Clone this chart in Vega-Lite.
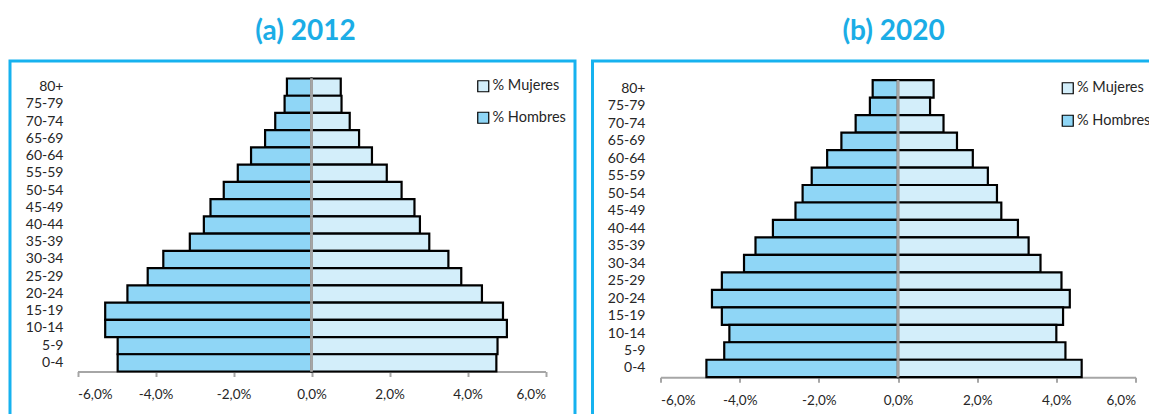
{
  "$schema": "https://vega.github.io/schema/vega-lite/v6.json",
  "background": "white",
  "padding": {"left": 8, "top": 16, "right": 0, "bottom": 0},
  "spacing": 13.5,
  "config": {
    "font": "Lato",
    "axis": {"labelFont": "Lato", "labelColor": "#262626", "grid": false},
    "legend": {"labelFont": "Lato"}
  },
  "datasets": {
    "y2012": [
      {"age": "80+", "sex": "% Hombres", "value": -0.63}, {"age": "80+", "sex": "% Mujeres", "value": 0.75},
      {"age": "75-79", "sex": "% Hombres", "value": -0.69}, {"age": "75-79", "sex": "% Mujeres", "value": 0.77},
      {"age": "70-74", "sex": "% Hombres", "value": -0.93}, {"age": "70-74", "sex": "% Mujeres", "value": 0.98},
      {"age": "65-69", "sex": "% Hombres", "value": -1.19}, {"age": "65-69", "sex": "% Mujeres", "value": 1.22},
      {"age": "60-64", "sex": "% Hombres", "value": -1.55}, {"age": "60-64", "sex": "% Mujeres", "value": 1.55},
      {"age": "55-59", "sex": "% Hombres", "value": -1.89}, {"age": "55-59", "sex": "% Mujeres", "value": 1.93},
      {"age": "50-54", "sex": "% Hombres", "value": -2.25}, {"age": "50-54", "sex": "% Mujeres", "value": 2.31},
      {"age": "45-49", "sex": "% Hombres", "value": -2.59}, {"age": "45-49", "sex": "% Mujeres", "value": 2.64},
      {"age": "40-44", "sex": "% Hombres", "value": -2.76}, {"age": "40-44", "sex": "% Mujeres", "value": 2.78},
      {"age": "35-39", "sex": "% Hombres", "value": -3.12}, {"age": "35-39", "sex": "% Mujeres", "value": 3.02},
      {"age": "30-34", "sex": "% Hombres", "value": -3.80}, {"age": "30-34", "sex": "% Mujeres", "value": 3.51},
      {"age": "25-29", "sex": "% Hombres", "value": -4.20}, {"age": "25-29", "sex": "% Mujeres", "value": 3.84},
      {"age": "20-24", "sex": "% Hombres", "value": -4.72}, {"age": "20-24", "sex": "% Mujeres", "value": 4.37},
      {"age": "15-19", "sex": "% Hombres", "value": -5.29}, {"age": "15-19", "sex": "% Mujeres", "value": 4.91},
      {"age": "10-14", "sex": "% Hombres", "value": -5.29}, {"age": "10-14", "sex": "% Mujeres", "value": 5.01},
      {"age": "5-9", "sex": "% Hombres", "value": -4.97}, {"age": "5-9", "sex": "% Mujeres", "value": 4.77},
      {"age": "0-4", "sex": "% Hombres", "value": -4.97}, {"age": "0-4", "sex": "% Mujeres", "value": 4.74}
    ],
    "y2020": [
      {"age": "80+", "sex": "% Hombres", "value": -0.64}, {"age": "80+", "sex": "% Mujeres", "value": 0.90},
      {"age": "75-79", "sex": "% Hombres", "value": -0.71}, {"age": "75-79", "sex": "% Mujeres", "value": 0.81},
      {"age": "70-74", "sex": "% Hombres", "value": -1.07}, {"age": "70-74", "sex": "% Mujeres", "value": 1.15},
      {"age": "65-69", "sex": "% Hombres", "value": -1.43}, {"age": "65-69", "sex": "% Mujeres", "value": 1.49},
      {"age": "60-64", "sex": "% Hombres", "value": -1.79}, {"age": "60-64", "sex": "% Mujeres", "value": 1.89},
      {"age": "55-59", "sex": "% Hombres", "value": -2.18}, {"age": "55-59", "sex": "% Mujeres", "value": 2.27},
      {"age": "50-54", "sex": "% Hombres", "value": -2.41}, {"age": "50-54", "sex": "% Mujeres", "value": 2.50},
      {"age": "45-49", "sex": "% Hombres", "value": -2.59}, {"age": "45-49", "sex": "% Mujeres", "value": 2.61},
      {"age": "40-44", "sex": "% Hombres", "value": -3.16}, {"age": "40-44", "sex": "% Mujeres", "value": 3.03},
      {"age": "35-39", "sex": "% Hombres", "value": -3.60}, {"age": "35-39", "sex": "% Mujeres", "value": 3.30},
      {"age": "30-34", "sex": "% Hombres", "value": -3.89}, {"age": "30-34", "sex": "% Mujeres", "value": 3.60},
      {"age": "25-29", "sex": "% Hombres", "value": -4.45}, {"age": "25-29", "sex": "% Mujeres", "value": 4.13},
      {"age": "20-24", "sex": "% Hombres", "value": -4.70}, {"age": "20-24", "sex": "% Mujeres", "value": 4.34},
      {"age": "15-19", "sex": "% Hombres", "value": -4.45}, {"age": "15-19", "sex": "% Mujeres", "value": 4.17},
      {"age": "10-14", "sex": "% Hombres", "value": -4.26}, {"age": "10-14", "sex": "% Mujeres", "value": 4.00},
      {"age": "5-9", "sex": "% Hombres", "value": -4.39}, {"age": "5-9", "sex": "% Mujeres", "value": 4.23},
      {"age": "0-4", "sex": "% Hombres", "value": -4.84}, {"age": "0-4", "sex": "% Mujeres", "value": 4.64}
    ]
  },
  "hconcat": [
    {
      "width": 565,
      "height": 370,
      "view": {"stroke": "#16B2EF", "strokeWidth": 3},
      "title": {"text": "(a) 2012", "font": "Lato", "fontSize": 28, "fontWeight": "bold", "color": "#1BADE6", "baseline": "alphabetic", "offset": -6.5, "dx": 13, "anchor": "middle"},
      "data": {"name": "y2012"},
      "encoding": {
        "y": {"field": "age", "type": "nominal", "title": null,
              "scale": {"domain": ["80+","75-79","70-74","65-69","60-64","55-59","50-54","45-49","40-44","35-39","30-34","25-29","20-24","15-19","10-14","5-9","0-4"], "range": [17.5, 310.5], "paddingInner": 0, "paddingOuter": 0},
              "axis": {"orient": "left", "offset": -54, "domain": false, "ticks": false, "labelPadding": 1, "labelFontSize": 14}}
      },
      "layer": [
        {
          "mark": {"type": "bar", "stroke": "black", "strokeWidth": 2.2},
          "encoding": {
            "x": {"field": "value", "type": "quantitative", "title": null,
                  "scale": {"domain": [-6, 6], "range": [67.5, 535.5], "nice": false, "zero": false},
                  "axis": {"orient": "bottom", "offset": -59.5, "values": [-6, -4, -2, 0, 2, 4, 6], "labelExpr": "(datum.value < 0 ? '-' : '') + abs(datum.value) + ',0%'", "domainColor": "#A6A6A6", "domainWidth": 2, "tickColor": "#A6A6A6", "tickWidth": 2, "tickSize": 5, "labelPadding": 11, "labelFontSize": 13.5}},
            "color": {"field": "sex", "type": "nominal",
                      "scale": {"domain": ["% Mujeres", "% Hombres"], "range": ["#D3EEFA", "#8FD6F6"]},
                      "legend": {"title": null, "orient": "none", "legendX": 466, "legendY": 18, "padding": 0, "symbolType": "square", "symbolSize": 121, "symbolStrokeColor": "black", "symbolStrokeWidth": 1.2, "labelFontSize": 14.5, "labelColor": "#262626", "rowPadding": 14.5, "labelOffset": 2}}
          }
        },
        {
          "mark": {"type": "bar", "stroke": "#A6A6A6", "strokeWidth": 2.5, "fillOpacity": 0},
          "encoding": {
            "x": {"datum": 0, "type": "quantitative"},
            "x2": {"datum": 0}
          }
        }
      ]
    },
    {
      "width": 570,
      "height": 370,
      "view": {"stroke": "#16B2EF", "strokeWidth": 3},
      "title": {"text": "(b) 2020", "font": "Lato", "fontSize": 28, "fontWeight": "bold", "color": "#1BADE6", "baseline": "alphabetic", "offset": -6.5, "dx": 16, "anchor": "middle"},
      "data": {"name": "y2020"},
      "encoding": {
        "y": {"field": "age", "type": "nominal", "title": null,
              "scale": {"domain": ["80+","75-79","70-74","65-69","60-64","55-59","50-54","45-49","40-44","35-39","30-34","25-29","20-24","15-19","10-14","5-9","0-4"], "range": [19.2, 316.2], "paddingInner": 0, "paddingOuter": 0},
              "axis": {"orient": "left", "offset": -53.5, "domain": false, "ticks": false, "labelPadding": 1, "labelFontSize": 14}}
      },
      "layer": [
        {
          "mark": {"type": "bar", "stroke": "black", "strokeWidth": 2.2},
          "encoding": {
            "x": {"field": "value", "type": "quantitative", "title": null,
                  "scale": {"domain": [-6, 6], "range": [68, 543], "nice": false, "zero": false},
                  "axis": {"orient": "bottom", "offset": -53.8, "values": [-6, -4, -2, 0, 2, 4, 6], "labelExpr": "(datum.value < 0 ? '-' : '') + abs(datum.value) + ',0%'", "domainColor": "#A6A6A6", "domainWidth": 2, "tickColor": "#A6A6A6", "tickWidth": 2, "tickSize": 5, "labelPadding": 11, "labelFontSize": 13.5}},
            "color": {"field": "sex", "type": "nominal",
                      "scale": {"domain": ["% Mujeres", "% Hombres"], "range": ["#D3EEFA", "#8FD6F6"]},
                      "legend": {"title": null, "orient": "none", "legendX": 468, "legendY": 20, "padding": 0, "symbolType": "square", "symbolSize": 121, "symbolStrokeColor": "black", "symbolStrokeWidth": 1.2, "labelFontSize": 14.5, "labelColor": "#262626", "rowPadding": 15.5, "labelOffset": 2}}
          }
        },
        {
          "mark": {"type": "bar", "stroke": "#A6A6A6", "strokeWidth": 2.5, "fillOpacity": 0},
          "encoding": {
            "x": {"datum": 0, "type": "quantitative"},
            "x2": {"datum": 0}
          }
        }
      ]
    }
  ],
  "resolve": {"scale": {"color": "independent", "x": "independent", "y": "independent"}, "legend": {"color": "independent"}}
}
